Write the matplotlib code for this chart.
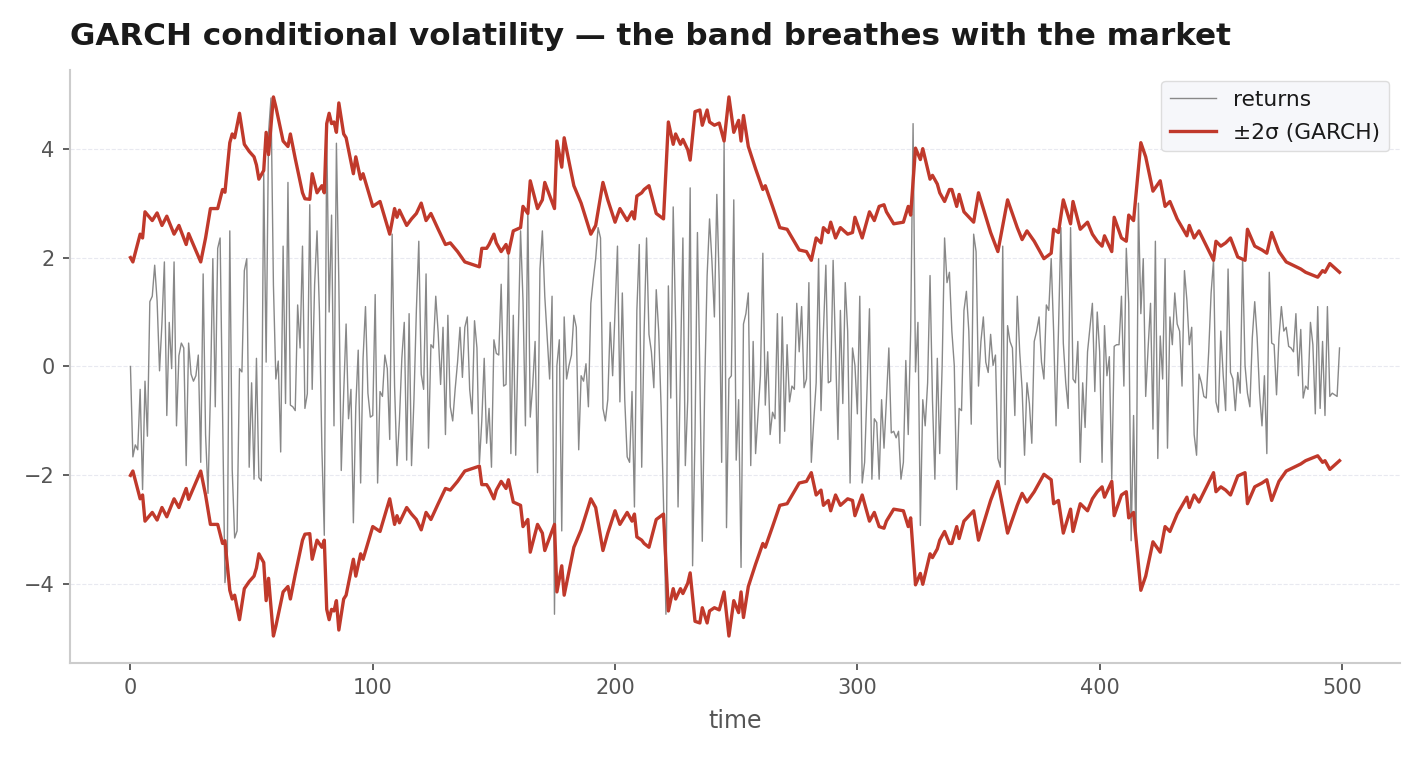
# plot.py
# GARCH conditional volatility chart: returns with a +/-2 sigma band.

import matplotlib
matplotlib.use("Agg")
from matplotlib import pyplot as plt
import numpy as np

# daily returns, one value per time step
returns = [
    0.0, -1.66, -1.44, -1.53, -0.42, -2.26, -0.27, -1.28, 1.19, 1.29,
    1.86, 1.2, -0.08, 0.8, 1.92, -0.9, 0.81, -0.04, 1.92, -1.09,
    0.2, 0.43, 0.34, -1.82, 0.43, -0.14, -0.27, -0.17, 0.21, -1.76,
    1.70, -1.25, -2.33, -0.5, 1.98, -0.74, 2.17, 2.36, -0.74, -3.97,
    -3.4, 2.49, -1.9, -3.15, -3.02, -0.04, -0.1, 1.76, 1.98, -1.85,
    -0.30, -2.07, 0.15, -2.04, -2.10, 3.54, 0.08, 4.30, 4.93, 1.5,
    -0.23, 0.1, -1.57, 2.21, -0.68, 3.38, -0.71, -0.74, -0.81, 1.13,
    0.34, 2.21, -0.77, -0.5, 2.97, -0.42, 1.5, 2.49,
    1.0, -1.5, -3.1, 4.3, 1.0, 2.78, -1.09, 4.1, 1.54, -1.91,
    -0.5, 0.78, -0.96, -0.42, -2.87, -0.74, 0.30, -2.14, 0.15, 1.10,
    -0.49, -0.93, -0.90, 1.32, -2.14, -0.46, -0.55, 0.21, -0.04, -1.34,
    2.43, -0.36, -1.82, -1.0, 0.15, 0.81, -1.72, 0.97, -1.82, -0.61,
    1.03, 2.30, -0.14, -0.42, 1.70, -1.50, 0.40, 0.34, 1.29, 0.62,
    -0.33, 0.72, -1.25, 0.94, -0.74, -1.0, -0.42, 0.08, 0.72, -0.2,
    0.72, 0.91, -0.42, -0.87, 0.84, 0.34, -1.79, -1.0, 0.15, -1.41,
    -0.77, -1.85, 0.49, 0.24, 0.21, 1.51, -0.36, -0.33, 2.05, -1.60,
    0.94, -1.63, 0.40, 2.49, 1.22, -1.09, 2.90,
    -0.93, -0.36, 0.46, -1.95, 1.79, 2.49, 1.29, 0.53, -0.23, 1.29,
    -4.55, 0.02, 0.49, -3.02, 0.91, -0.23, 0.02, 0.21, 0.94, 0.72,
    -1.53, -0.17, -0.27, 0.05, -0.74, 1.16, 1.60, 1.98, 2.55, 2.36,
    -0.77, -1.0, -0.61, 0.81, -0.17, 1.03, 2.21, -0.65, 1.35, -0.61,
    -1.66, -1.76, -0.46, -2.58, 1.03, 2.24, -1.85, 0.65, 2.36, 0.59,
    0.27, -0.39, 1.41, 0.65, -0.74, -2.52, -4.55, 1.48, -0.58, 2.93,
    0.78, -2.58, 0.02, 2.36, -1.82, -0.61, 3.28, -3.66, -1.25, 2.46,
    -0.17, -3.21, -0.36, 1.67, 2.71, 1.92, 0.91, 3.16, 1.54, -1.76,
    4.11, -2.96, -0.23,
    -0.17, 3.06, -1.72, -0.61, -3.69, 0.78, 0.97, 1.35, -1.82, 0.46,
    -1.60, -0.87, -0.17, 2.08, -0.71, 0.27, -1.25, -0.84, -0.96,
    0.97, -1.41, 0.91, -1.19, 0.40, -0.65, -0.36, -0.42, 1.16, 0.27,
    1.10, -0.39, -0.23, 1.54, -1.76, -1.0, -0.30, 1.98, -0.81, 0.65,
    1.86, -0.30, -0.27,
    1.95, 0.30, -1.34, 1.03, -0.68, 1.54, 0.65, -2.14, 0.34, 0.02,
    -0.87, 1.29, -2.14, -1.76, -0.42,
    1.06, -2.07, -0.96, -1.03, -2.07, -0.61, -1.50, -0.61, 0.34, -1.22,
    -1.19, -1.31, -1.19, -2.07, -1.76, 0.11, -1.25, 0.65,
    4.46, -0.1, 0.81, -2.92, -0.61, -1.09, -0.30, 1.67,
    -0.61, -2.07, 0.15, -1.60, 0.02, 2.36, 1.54, 1.73, 0.65, 0.02,
    -2.26, -0.77, -0.81, 1.03, 1.38, 0.65, -1.06, 2.43, 2.11, -0.36,
    0.46, 0.91, 0.08, -0.11, 0.59, 0.02, 0.21, -1.69, -1.85, 2.21,
    -2.17, 0.75, 0.46, 0.34, -0.90, 1.29, 0.27, -0.42, -1.63, -0.30,
    -0.68, -1.41, 0.46, 0.65, 0.91, 0.08, -0.23, 1.13, 1.03, 1.98,
    0.65, -1.09, 0.65, 2.55, 0.43, -0.30, -0.77, 2.55, -0.23, -0.30,
    0.46, -1.76, -0.30, -1.12, 0.27, 0.72, 1.16, -0.46, 1.0, 0.27,
    -1.76, 0.75, -0.17, 0.18, -2.07, 0.37, 0.40, 0.40, 1.29, -0.36,
    2.17, 1.16,
    -3.2, -0.9, -3.3, 3.0,
    0.97, 1.98, -0.55, 0.34, 1.16, -1.15, 2.30, -1.69, 0.56, -0.23,
    1.98, -1.50, 0.91, 0.40, 1.35, 0.78,
    0.65, -0.36, 1.76, 1.22, 0.40, 0.72, -1.25, -1.63, -0.14, -0.30,
    -0.55, -0.58, 0.27, 1.35, 1.95, -0.65, -0.84, 0.65, -0.17, -0.81,
    1.79, -0.11, -0.23,
    -0.81, -0.11, -0.49, 1.98, 0.02, -0.49, -0.74, 0.53, 1.19, 0.53,
    -0.49, -1.09, -0.17, -1.60, 1.73, 0.43, 0.40, -0.52, 0.53,
    1.10, 0.65, 0.72, 0.37, 0.34, 0.27, 0.97, -0.17, 0.68, -0.58,
    -0.36, -0.42, 0.81, 0.40, -0.87, 1.10, -0.77, 0.46, -0.90, 1.10,
    -0.55, -0.49, -0.52, -0.55, 0.34,
]

# upper edge of the band (+2 sigma); the lower edge is its mirror
band_t = [
    0, 1, 4, 5, 6, 9, 11, 13, 15, 18, 20, 23, 24, 29, 31, 33, 36, 38, 39,
    41, 42, 43, 45, 47, 49, 51, 52, 53, 55, 56, 57, 59, 60, 63, 65, 66, 68,
    71, 72, 74, 75, 77, 79, 80, 81, 82, 83, 84, 85, 86, 88, 89, 92, 93, 95,
    96, 100, 103, 107, 109, 110, 111, 114, 116, 118, 120, 122, 124, 127,
    130, 132, 135, 138, 140, 142, 144, 145, 147, 148, 150, 151, 153, 155,
    156, 158, 161, 162, 164, 165, 168, 170, 171, 175, 176, 178, 179, 183,
    186, 190, 192, 195, 197, 200, 202, 205, 207, 208, 209, 211, 212, 214,
    217, 220, 222, 224, 225, 227, 228, 230, 231, 233, 235, 236, 238, 239,
    241, 243, 245, 247, 249, 251, 252, 253, 255, 258, 261, 262, 265, 268,
    271, 276, 279, 281, 283, 285, 286, 288, 289, 291, 293, 296, 298, 299,
    302, 305, 307, 309, 311, 312, 315, 319, 321, 322, 324, 326, 327, 330,
    331, 333, 334, 336, 338, 339, 341, 342, 344, 348, 350, 355, 358, 362,
    366, 368, 370, 373, 377, 380, 381, 383, 385, 388, 389, 392, 395, 397,
    399, 401, 402, 405, 406, 409, 411, 412, 414, 417, 419, 422, 425, 427,
    429, 432, 436, 437, 439, 441, 447, 448, 450, 452, 454, 457, 460, 461,
    464, 467, 469, 471, 474, 477, 483, 485, 490, 492, 493, 495, 499,
]
band_hi = [
    2.00, 1.92, 2.43, 2.36, 2.84, 2.68, 2.82, 2.59, 2.76, 2.43, 2.59, 2.24,
    2.44, 1.92, 2.36, 2.90, 2.90, 3.25, 3.20,
    4.11, 4.27, 4.20, 4.65, 4.08, 3.95, 3.85, 3.70, 3.44, 3.60, 4.30, 3.89,
    4.95, 4.77, 4.14, 4.04, 4.27, 3.82,
    3.19, 3.08, 3.07, 3.54, 3.19, 3.32, 3.19, 4.46, 4.65, 4.46, 4.49, 4.30,
    4.84, 4.27, 4.20, 3.54, 3.85, 3.44,
    3.54, 2.94, 3.03, 2.43, 2.90, 2.74, 2.87, 2.59, 2.71, 2.81, 3.00, 2.68,
    2.81, 2.52,
    2.24, 2.27, 2.11, 1.92, 1.89, 1.86, 1.83, 2.17, 2.17, 2.24, 2.43, 2.27,
    2.11, 2.24,
    2.08, 2.49, 2.55, 2.94, 2.81, 3.41, 2.90, 3.06, 3.38, 2.90, 4.14, 3.66,
    4.20, 3.32,
    3.00, 2.43, 2.59, 3.38, 3.06, 2.65, 2.90, 2.68, 2.84, 2.71, 3.13, 3.19,
    3.25, 3.32,
    2.81, 2.71, 4.49, 4.08, 4.27, 4.08, 4.17, 3.98, 3.79, 4.68, 4.71, 4.43,
    4.71, 4.49,
    4.43, 4.47, 4.14, 4.95, 4.30, 4.52, 4.14, 4.61, 4.04, 3.63, 3.25, 3.32,
    2.94, 2.55,
    2.52, 2.14, 2.11, 1.95, 2.36, 2.27, 2.55, 2.46, 2.65, 2.36, 2.55, 2.43,
    2.46, 2.74,
    2.36, 2.84, 2.68, 2.94, 2.97, 2.84, 2.62, 2.65, 2.94, 2.78, 4.01, 3.80,
    4.00, 3.44,
    3.51, 3.35, 3.19, 3.03, 3.25, 3.25, 2.94, 3.16, 2.84, 2.65, 3.19, 2.46,
    2.11, 3.06,
    2.55, 2.33, 2.49, 2.30, 1.98, 2.08, 2.52, 2.46, 3.06, 2.62, 3.03, 2.52,
    2.65, 2.43,
    2.30, 2.21, 2.40, 2.11, 2.74, 2.36, 2.30, 2.78, 2.68, 4.11, 3.85, 3.22,
    3.41, 2.94,
    3.03, 2.71, 2.40, 2.59, 2.36, 2.49, 1.95, 2.30, 2.21, 2.27, 2.36, 2.01,
    1.95, 2.52,
    2.21, 2.14, 2.08, 2.46, 2.11, 1.92, 1.79, 1.73, 1.64, 1.76, 1.73, 1.89,
    1.73,
]

theme = {
    "returns": "#888888",
    "band": "#c0392b",
    "text": "#1a1a1a",
    "muted": "#555555",
    "spine": "#cccccc",
    "grid": "#e8e9f0",
}

time = np.arange(len(returns))
band_lo = [-v for v in band_hi]

fig = plt.figure(figsize=(14.2, 7.59), dpi=100)
ax = fig.add_axes([0.0493, 0.1265, 0.9366, 0.7813])

ax.plot(time, returns, color=theme["returns"], linewidth=1.0, label="returns")
ax.plot(band_t, band_hi, color=theme["band"], linewidth=2.4, label="\u00b12\u03c3 (GARCH)")
ax.plot(band_t, band_lo, color=theme["band"], linewidth=2.4)

ax.set_title("GARCH conditional volatility \u2014 the band breathes with the market",
             loc="left", fontsize=22.3, fontweight="bold", color=theme["text"], pad=18)
ax.set_xlabel("time", fontsize=17, color=theme["muted"], labelpad=8)

# light dashed horizontal grid only
ax.yaxis.grid(True, linestyle="--", linewidth=0.8, color=theme["grid"])
ax.set_axisbelow(True)

for side in ("top", "right"):
    ax.spines[side].set_visible(False)
for side in ("left", "bottom"):
    ax.spines[side].set_color(theme["spine"])
    ax.spines[side].set_linewidth(1.5)

ax.tick_params(axis="both", colors="#444444", labelcolor=theme["muted"],
               labelsize=15, length=5, width=1.2, pad=6)

leg = ax.legend(loc="upper right", fontsize=15.7, frameon=True, fancybox=True,
                facecolor="#f6f7fa", edgecolor="#dddddd", framealpha=1.0,
                labelspacing=0.6, handlelength=2.1)
for txt in leg.get_texts():
    txt.set_color(theme["text"])

fig.savefig("out.png", dpi=100)
plt.close(fig)
